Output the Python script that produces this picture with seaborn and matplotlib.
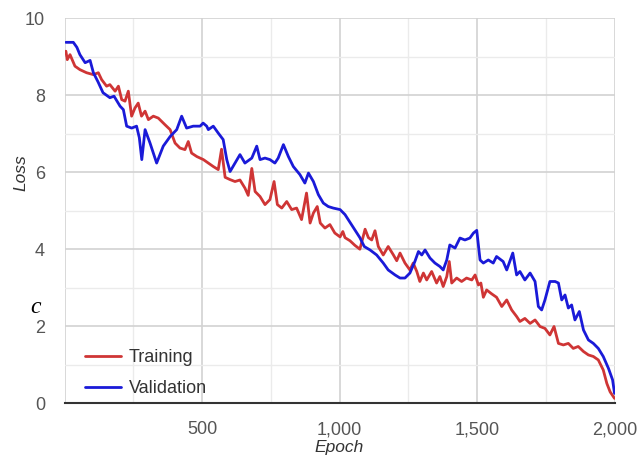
import pandas as pd
import matplotlib.pyplot as plt
from matplotlib.ticker import MultipleLocator
import seaborn as sns

# values
train_epoch = [5, 10, 20, 38, 56, 80, 105, 123, 135, 153, 165, 184, 196, 208, 220, 232, 244, 256, 268, 280,
               293, 305, 323, 341, 365, 384, 402, 420, 438, 450, 462, 481, 505, 523, 541, 559, 571, 584, 602, 620,
               638, 656, 668, 681, 693, 711, 729, 747, 762, 774, 790, 808, 826, 844, 862, 880, 893, 905, 919, 930,
               947, 965, 983, 1002, 1012, 1020, 1038, 1056, 1074, 1093, 1105, 1117, 1129, 1141, 1159, 1177, 1196, 1208, 1220, 1238,
               1256, 1268, 1281, 1292, 1305, 1317, 1335, 1353, 1365, 1377, 1390, 1399, 1408, 1426, 1444, 1462, 1481, 1493, 1505, 1514,
               1523, 1535, 1553, 1571, 1590, 1608, 1626, 1644, 1656, 1674, 1693, 1711, 1729, 1747, 1765, 1780, 1796, 1814, 1832, 1850,
               1868, 1887, 1905, 1923, 1941, 1959, 1972, 1984, 2000]
train_loss = [9.15, 8.93, 9.06, 8.76, 8.67, 8.59, 8.54, 8.59, 8.41, 8.24, 8.28, 8.11, 8.24, 7.89, 7.85, 8.11, 7.46, 7.67, 7.80, 7.46,
              7.59, 7.37, 7.46, 7.41, 7.24, 7.11, 6.76, 6.63, 6.59, 6.80, 6.50, 6.41, 6.33, 6.24, 6.15, 6.07, 6.60, 5.87, 5.81, 5.76,
              5.80, 5.59, 5.40, 6.10, 5.50, 5.37, 5.16, 5.29, 5.76, 5.16, 5.07, 5.24, 5.03, 5.07, 4.77, 5.46, 4.68, 4.94, 5.11, 4.68,
              4.55, 4.64, 4.42, 4.32, 4.46, 4.30, 4.22, 4.10, 4.00, 4.52, 4.30, 4.24, 4.48, 4.07, 3.85, 4.07, 3.85, 3.70, 3.90, 3.64,
              3.46, 3.64, 3.42, 3.16, 3.38, 3.20, 3.42, 3.12, 3.29, 3.03, 3.29, 3.68, 3.12, 3.25, 3.16, 3.25, 3.20, 3.33, 3.07, 3.12,
              2.75, 2.94, 2.84, 2.75, 2.51, 2.68, 2.42, 2.25, 2.12, 2.20, 2.07, 2.16, 1.99, 1.94, 1.77, 1.99, 1.55, 1.51, 1.55, 1.42,
              1.47, 1.34, 1.25, 1.21, 1.12, 0.86, 0.51, 0.29, 0.12]

val_epoch = [5, 32, 45, 56, 75, 93, 105, 122, 140, 165, 180, 202, 214, 226, 244, 262, 272, 281, 293, 311,
             335, 359, 384, 408, 426, 444, 468, 493, 504, 517, 523, 541, 559, 577, 590, 602, 620, 638, 656, 681,
             699, 711, 729, 747, 765, 777, 796, 814, 832, 856, 874, 887, 905, 923, 941, 959, 977, 1002, 1020, 1038,
             1056, 1074, 1090, 1111, 1135, 1159, 1177, 1202, 1220, 1238, 1256, 1274, 1287, 1299, 1311, 1329, 1347, 1365, 1377, 1390,
             1401, 1420, 1438, 1456, 1474, 1487, 1499, 1511, 1523, 1541, 1559, 1571, 1595, 1608, 1630, 1644, 1656, 1674, 1693, 1711,
             1723, 1735, 1747, 1765, 1784, 1796, 1808, 1820, 1832, 1844, 1856, 1872, 1887, 1905, 1923, 1941, 1959, 1978, 1993, 2000]
val_loss = [9.38, 9.38, 9.25, 9.06, 8.85, 8.91, 8.59, 8.35, 8.07, 7.94, 7.98, 7.72, 7.63, 7.20, 7.15, 7.20, 6.90, 6.33, 7.11, 6.76,
            6.24, 6.68, 6.93, 7.11, 7.46, 7.15, 7.20, 7.20, 7.28, 7.20, 7.11, 7.20, 7.02, 6.85, 6.33, 6.02, 6.24, 6.46, 6.24, 6.37,
            6.68, 6.33, 6.37, 6.33, 6.24, 6.37, 6.72, 6.41, 6.15, 5.94, 5.72, 5.98, 5.76, 5.42, 5.20, 5.11, 5.07, 5.03, 4.90, 4.70,
            4.50, 4.30, 4.07, 3.98, 3.85, 3.64, 3.46, 3.33, 3.25, 3.25, 3.38, 3.68, 3.94, 3.85, 3.98, 3.77, 3.64, 3.55, 3.46, 3.72,
            4.11, 4.03, 4.29, 4.24, 4.29, 4.42, 4.49, 3.72, 3.64, 3.72, 3.64, 3.81, 3.68, 3.46, 3.90, 3.33, 3.42, 3.20, 3.38, 3.16,
            2.51, 2.42, 2.68, 3.16, 3.16, 3.12, 2.68, 2.81, 2.47, 2.55, 2.16, 2.38, 1.90, 1.64, 1.55, 1.42, 1.21, 0.90, 0.60, 0.25]

y_ticks = [0, 2, 4, 6, 8, 10]
x_ticks = [0, 500, 1000, 1500, 2000]
x_tick_labels = ['', '500', '1,000', '1,500', '2,000']

train_df = pd.DataFrame({'Epoch': train_epoch, 'Loss': train_loss})
val_df = pd.DataFrame({'Epoch': val_epoch, 'Loss': val_loss})

sns.set_theme(style='white')
plt.rcParams['font.family'] = ['Liberation Sans', 'DejaVu Sans']

fig = plt.figure(figsize=(6.4, 4.59), dpi=100)
fig.subplots_adjust(left=0.1008, right=0.9602, top=0.9597, bottom=0.122)
ax = fig.add_subplot(111)

sns.lineplot(data=train_df, x='Epoch', y='Loss', ax=ax, color='#cf3535', linewidth=2.0, label='Training')
sns.lineplot(data=val_df, x='Epoch', y='Loss', ax=ax, color='#1a1ad8', linewidth=2.0, label='Validation')

ax.set_xlim(0, 2000)
ax.set_ylim(0, 10)
ax.set_xticks(x_ticks)
ax.set_xticklabels(x_tick_labels)
ax.set_yticks(y_ticks)
ax.xaxis.set_minor_locator(MultipleLocator(250))
ax.yaxis.set_minor_locator(MultipleLocator(1))
ax.grid(which='major', color='#d2d2d2', linewidth=1.2)
ax.grid(which='minor', color='#ebebeb', linewidth=1.0)
ax.set_axisbelow(True)
ax.tick_params(axis='both', which='both', length=0, labelsize=13, labelcolor='#555555')
ax.tick_params(axis='y', pad=14)
ax.tick_params(axis='x', pad=13)

for side in ['top', 'right', 'left']:
    ax.spines[side].set_visible(False)
ax.spines['bottom'].set_color('#333333')
ax.spines['bottom'].set_linewidth(1.5)

ax.set_xlabel('Epoch', fontsize=12.5, style='italic', color='#333333')
ax.set_ylabel('Loss', fontsize=12.5, style='italic', color='#333333')
ax.xaxis.set_label_coords(0.5, -0.097)
ax.yaxis.set_label_coords(-0.066, 0.598)

ax.legend(loc='lower left', bbox_to_anchor=(0.037, 0.016), frameon=False, borderpad=0, borderaxespad=0,
          fontsize=13, handlelength=2.0, handletextpad=0.45, labelspacing=0.75, labelcolor='#333333')

fig.text(0.055, 0.331, 'c', fontsize=17, style='italic', family='Liberation Serif', color='black',
         ha='center', va='center')

plt.savefig('out.png', dpi=100)
